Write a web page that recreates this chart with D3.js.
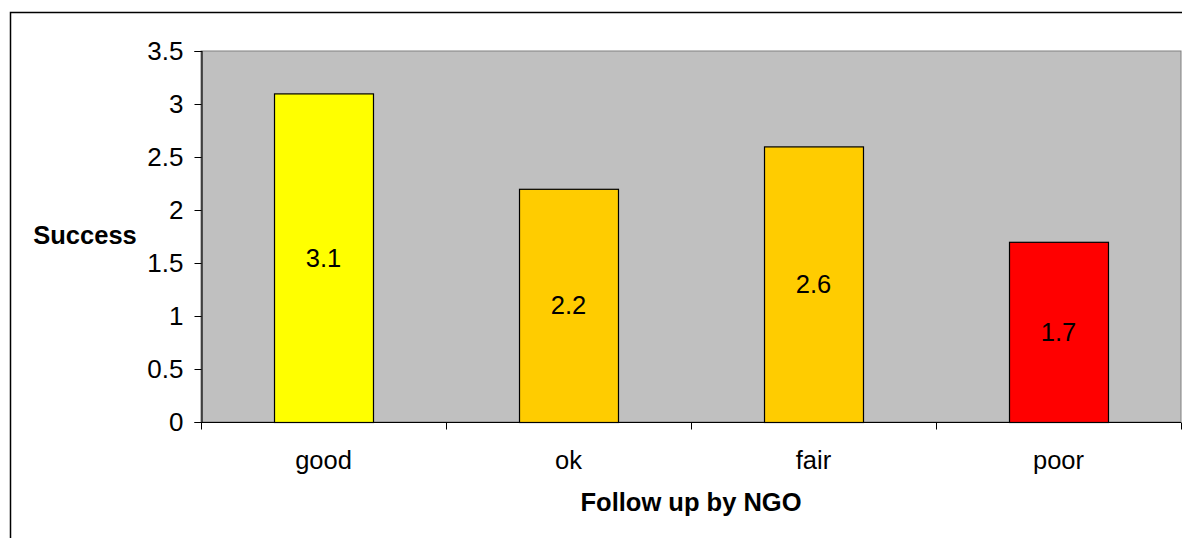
<!DOCTYPE html>
<html>
<head>
<meta charset="utf-8">
<script src="https://cdn.jsdelivr.net/npm/d3@7"></script>
<style>
  html, body { margin: 0; padding: 0; background: #fff; }
  svg { display: block; }
  text { font-family: "Liberation Sans", Arial, sans-serif; fill: #000; }
</style>
</head>
<body>
<svg id="chart" width="1182" height="538"></svg>
<script>
// Follow-up quality vs. success score
const categories = ["good", "ok", "fair", "poor"];
const successValues = [3.1, 2.2, 2.6, 1.7];
const barColors = ["#FFFF00", "#FFCC00", "#FFCC00", "#FF0000"];
const yTicks = [0, 0.5, 1, 1.5, 2, 2.5, 3, 3.5];

const svg = d3.select("#chart");

// chart frame
svg.append("rect")
  .attr("x", 10.5).attr("y", 12.5)
  .attr("width", 1200).attr("height", 600)
  .attr("fill", "#fff").attr("stroke", "#000").attr("stroke-width", 1.5);

const plot = { left: 201, right: 1181, top: 51, bottom: 422 };

const x = d3.scaleBand()
  .domain(categories)
  .range([plot.left, plot.right])
  .paddingInner(0.596).paddingOuter(0.298);

const xGroup = d3.scaleBand()
  .domain(categories)
  .range([plot.left, plot.right]);

const y = d3.scaleLinear()
  .domain([0, 3.5])
  .range([plot.bottom, plot.top]);

// plot area
svg.append("rect")
  .attr("x", plot.left).attr("y", plot.top)
  .attr("width", plot.right - plot.left).attr("height", plot.bottom - plot.top)
  .attr("fill", "#C0C0C0").attr("stroke", "#808080").attr("stroke-width", 1);

// bars
svg.append("g").selectAll("rect")
  .data(categories)
  .join("rect")
  .attr("x", d => x(d) + 0.5)
  .attr("y", (d, i) => y(successValues[i]) + 0.5)
  .attr("width", x.bandwidth())
  .attr("height", (d, i) => y(0) - y(successValues[i]))
  .attr("fill", (d, i) => barColors[i])
  .attr("stroke", "#000").attr("stroke-width", 1.2);

// value labels centred in each bar
svg.append("g").selectAll("text")
  .data(categories)
  .join("text")
  .attr("x", d => x(d) + x.bandwidth() / 2)
  .attr("y", (d, i) => (y(successValues[i]) + y(0)) / 2)
  .attr("text-anchor", "middle")
  .attr("dominant-baseline", "central")
  .attr("font-size", 25.5)
  .text((d, i) => successValues[i]);

// y axis
const yAxis = d3.axisLeft(y)
  .tickValues(yTicks)
  .tickSize(7)
  .tickPadding(11)
  .tickFormat(d3.format("~g"));

const yG = svg.append("g")
  .attr("transform", `translate(${plot.left + 0.5},0)`)
  .call(yAxis);
yG.select(".domain").attr("stroke", "#000").attr("stroke-width", 1.2);
yG.selectAll(".tick line").attr("stroke", "#000");
yG.selectAll(".tick text").attr("font-size", 26).attr("font-family", "Liberation Sans, Arial, sans-serif").attr("fill", "#000");

// x axis with ticks at category boundaries
const boundaries = categories.map(c => xGroup(c)).concat([plot.right]);
const xG = svg.append("g")
  .attr("transform", `translate(0,${plot.bottom + 0.5})`);
xG.append("line")
  .attr("x1", plot.left).attr("x2", plot.right)
  .attr("stroke", "#000").attr("stroke-width", 1.2);
xG.selectAll("line.tick")
  .data(boundaries)
  .join("line")
  .attr("class", "tick")
  .attr("x1", d => d + 0.5).attr("x2", d => d + 0.5)
  .attr("y1", 0).attr("y2", 7)
  .attr("stroke", "#000");
xG.selectAll("text")
  .data(categories)
  .join("text")
  .attr("x", d => xGroup(d) + xGroup.bandwidth() / 2)
  .attr("y", 46)
  .attr("text-anchor", "middle")
  .attr("font-size", 25.5)
  .text(d => d);

// axis titles
svg.append("text")
  .attr("x", 85).attr("y", 244)
  .attr("text-anchor", "middle")
  .attr("font-size", 25.5).attr("font-weight", "bold")
  .text("Success");

svg.append("text")
  .attr("x", (plot.left + plot.right) / 2).attr("y", 511)
  .attr("text-anchor", "middle")
  .attr("font-size", 25.5).attr("font-weight", "bold")
  .text("Follow up by NGO");
</script>
</body>
</html>
